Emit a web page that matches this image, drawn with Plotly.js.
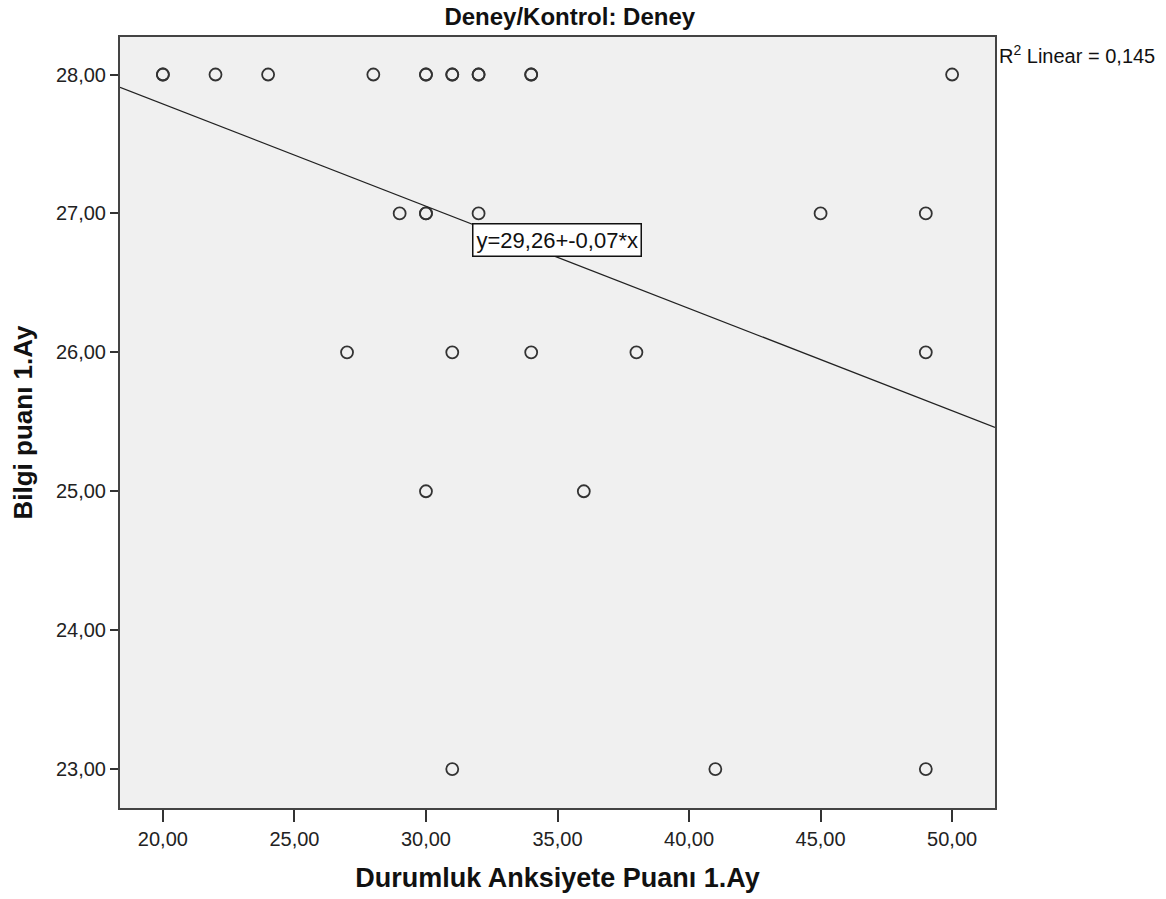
<!DOCTYPE html>
<html><head><meta charset="utf-8">
<script src="https://cdn.plot.ly/plotly-3.0.1.min.js"></script>
<style>body{margin:0;background:#fff}#c{width:1166px;height:899px}</style>
</head><body><div id="c"></div>
<script>
const anxiety = [20,20,22,24,28,30,30,31,31,32,32,34,34,50, 29,30,30,32,45,49, 27,31,34,38,49, 30,36, 31,41,49];
const knowledge = [28,28,28,28,28,28,28,28,28,28,28,28,28,28, 27,27,27,27,27,27, 26,26,26,26,26, 25,25, 23,23,23];
const intercept = 29.26;
const slope = -0.0736;
const xRange = [18.37, 51.63];
const yTicks = [23,24,25,26,27,28];
const xTicks = [20,25,30,35,40,45,50];

const lineX = xRange.slice();
const lineY = lineX.map(v => intercept + slope * v);

const data = [
  {x: anxiety, y: knowledge, type:'scatter', mode:'markers',
   marker:{symbol:'circle-open', size:12, color:'#333', line:{width:1.8, color:'#333'}},
   hoverinfo:'x+y', showlegend:false},
  {x: lineX, y: lineY, type:'scatter', mode:'lines',
   line:{color:'#222', width:1.3}, showlegend:false, hoverinfo:'skip'}
];

const layout = {
  width:1166, height:899,
  margin:{l:120, r:171, t:37, b:91},
  paper_bgcolor:'#fff', plot_bgcolor:'#f0f0f0',
  separators:', ',
  font:{family:'Liberation Sans, Arial, sans-serif', color:'#222'},
  title:{text:'<b>Deney/Kontrol: Deney</b>', x:0.514, xref:'paper', xanchor:'center', y:0.981, yanchor:'middle',
    font:{size:24, family:'Liberation Sans, Arial', color:'#111'}},
  xaxis:{range:xRange, tickvals:xTicks, tickformat:'.2f', ticks:'outside', ticklen:12, tickwidth:2, tickcolor:'#333',
    showgrid:false, zeroline:false, showline:true, linecolor:'#444', linewidth:2, mirror:true,
    tickfont:{size:20, color:'#222'},
    title:{text:'<b>Durumluk Anksiyete Puanı 1.Ay</b>', font:{size:27, color:'#111'}, standoff:19}},
  yaxis:{range:[22.72, 28.27], tickvals:yTicks, tickformat:'.2f', ticks:'outside', ticklen:8, tickwidth:2, tickcolor:'#333',
    showgrid:false, zeroline:false, showline:true, linecolor:'#444', linewidth:2, mirror:true,
    tickfont:{size:20, color:'#222'},
    title:{text:'<b>Bilgi puanı 1.Ay</b>', font:{size:26, color:'#111'}, standoff:16}},
  annotations:[
    {x:34.98, y:26.808, xref:'x', yref:'y', text:'y=29,26+-0,07*x', showarrow:false,
     font:{size:22, color:'#111'}, bgcolor:'#fff', bordercolor:'#111', borderwidth:1.5, borderpad:3},
    {x:1.002, y:0.9767, xref:'paper', yref:'paper', xanchor:'left', yanchor:'middle',
     text:'R<sup>2</sup> Linear = 0,145', showarrow:false, font:{size:20, color:'#111'}}
  ]
};
Plotly.newPlot('c', data, layout, {displayModeBar:false});
</script></body></html>
